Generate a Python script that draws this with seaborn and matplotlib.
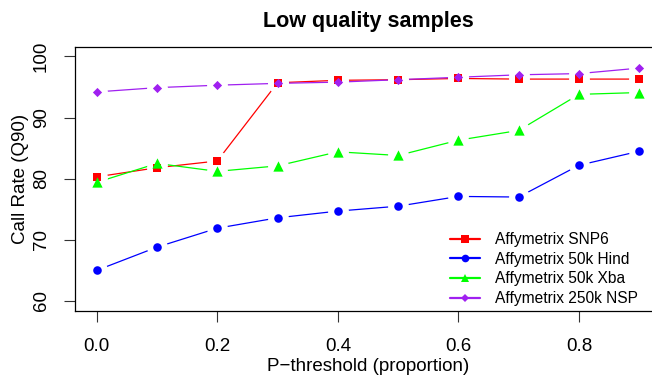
import numpy as np
import pandas as pd
import matplotlib
matplotlib.use("Agg")
import matplotlib.pyplot as plt
from matplotlib.lines import Line2D
import seaborn as sns

# ---- data ----
p_threshold = [0.0, 0.1, 0.2, 0.3, 0.4, 0.5, 0.6, 0.7, 0.8, 0.9]
snp6 = [80.3, 81.8, 82.9, 95.7, 96.1, 96.2, 96.4, 96.3, 96.3, 96.3]
hind_50k = [65.0, 68.8, 71.9, 73.6, 74.7, 75.5, 77.1, 77.0, 82.2, 84.5]
xba_50k = [79.4, 82.5, 81.2, 82.1, 84.4, 83.8, 86.3, 87.9, 93.8, 94.1]
nsp_250k = [94.2, 94.9, 95.3, 95.6, 95.8, 96.2, 96.6, 97.0, 97.2, 98.1]
series_names = ["Affymetrix SNP6", "Affymetrix 50k Hind",
                "Affymetrix 50k Xba", "Affymetrix 250k NSP"]
x_ticks = [0.0, 0.2, 0.4, 0.6, 0.8]
y_ticks = [60, 70, 80, 90, 100]

df = pd.concat([
    pd.DataFrame({"p": p_threshold, "rate": vals, "platform": name})
    for name, vals in zip(series_names, [snp6, hind_50k, xba_50k, nsp_250k])
], ignore_index=True)

palette = {series_names[0]: "#FF0000", series_names[1]: "#0000FF",
           series_names[2]: "#00FF00", series_names[3]: "#A020F0"}
markers = {series_names[0]: "s", series_names[1]: "o",
           series_names[2]: "^", series_names[3]: "D"}
sizes = {series_names[0]: 40, series_names[1]: 38,
         series_names[2]: 55, series_names[3]: 22}

sns.set_theme(style="white")
plt.rcParams["font.family"] = ["Liberation Sans", "DejaVu Sans"]
plt.rcParams["text.color"] = "black"
plt.rcParams["axes.labelcolor"] = "black"

W, H = 652, 381
fig = plt.figure(figsize=(W / 100, H / 100), dpi=100)
left, right, top, bottom = 75, 661, 46.7, 310.7
ax = fig.add_axes([left / W, 1 - bottom / H, (right - left) / W, (bottom - top) / H])

# connecting lines
sns.lineplot(data=df, x="p", y="rate", hue="platform", palette=palette,
             linewidth=0.9, legend=False, ax=ax, sort=False, zorder=0.5)
line_artists = list(ax.lines)
# white gaps around points (R type="b")
ax.plot(df["p"], df["rate"], linestyle="none", marker="o", markersize=15,
        markerfacecolor="white", markeredgecolor="white", markeredgewidth=0,
        zorder=1.5)
for ln in line_artists:
    ln.set_zorder(0.5)
n_before = len(ax.collections)
# markers
for name in series_names:
    sub = df[df["platform"] == name]
    sns.scatterplot(data=sub, x="p", y="rate", color=palette[name],
                    marker=markers[name], s=sizes[name], linewidth=0,
                    legend=False, ax=ax)
for coll in ax.collections[n_before:]:
    coll.set_zorder(3)

ax.set_xlim(-0.036, 0.936)
ax.set_ylim(58.4, 101.6)
ax.set_xticks(x_ticks)
ax.set_xticklabels([f"{t:.1f}" for t in x_ticks])
ax.set_yticks(y_ticks)
ax.set_yticklabels([str(t) for t in y_ticks])
ax.tick_params(axis="both", which="major", direction="out", length=8,
               width=0.8, color="#333333", labelsize=13.5, labelcolor="black",
               bottom=True, left=True)
ax.tick_params(axis="x", pad=12)
ax.tick_params(axis="y", pad=10, labelrotation=90)
for lab in ax.get_yticklabels():
    lab.set_va("center")
for sp in ax.spines.values():
    sp.set_color("black")
    sp.set_linewidth(0.9)
    sp.set_zorder(4)

ax.set_xlabel("P\u2212threshold (proportion)", fontsize=13.5, labelpad=2, color="black")
ax.set_ylabel("Call Rate (Q90)", fontsize=13.5, labelpad=3, color="black")
ax.set_title("Low quality samples", fontsize=15.5, fontweight="bold", pad=14, color="black")

handles = [Line2D([], [], color=palette[n], marker=markers[n], lw=1.6,
                  markersize=(5.5 if markers[n] != "D" else 4), markeredgewidth=0)
           for n in series_names]
fig.legend(handles, series_names, loc="upper left",
           bbox_to_anchor=(450 / W, 1 - 232 / H), frameon=False,
           fontsize=11.2, handlelength=1.93, handletextpad=0.96,
           labelspacing=0.3, borderpad=0, borderaxespad=0)

fig.savefig("out.png", dpi=100)
